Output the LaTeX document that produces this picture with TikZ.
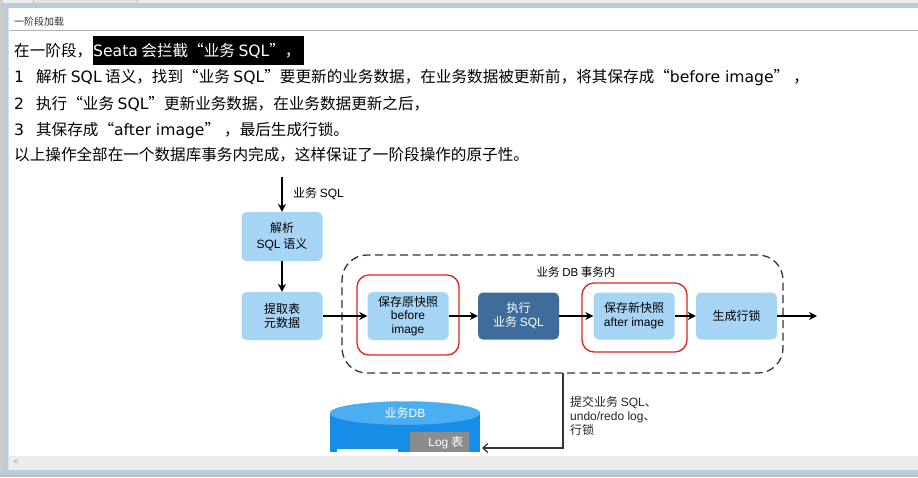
\documentclass[tikz,border=0pt]{standalone}
\usepackage{fontspec}
\setmainfont{Noto Sans CJK SC}
\newfontfamily\lat{DejaVu Sans}
\newfontfamily\hel{Liberation Sans}
\usetikzlibrary{arrows.meta,shapes.geometric}
\definecolor{lb}{HTML}{A6D4F5}
\definecolor{db}{HTML}{3E6D9C}
\definecolor{chrome}{HTML}{BCCBD9}
\definecolor{cyl}{HTML}{178DE8}
\definecolor{cyltop}{HTML}{4AAEF3}
\definecolor{redl}{HTML}{E2231A}
\newcommand{\mainf}{\fontsize{15.6}{18}\selectfont}
\newcommand{\myla}[1]{{\lat #1}}
\newcommand{\myhe}[1]{{\hel #1}}
\begin{document}
\begin{tikzpicture}[x=1pt,y=-1pt,
  txt/.style={anchor=base west, inner sep=0pt, font=\mainf},
  box/.style={rounded corners=5pt, minimum width=81pt, minimum height=48pt, align=center, inner sep=0pt, font=\fontsize{12}{14}\selectfont},
  lbox/.style={box, fill=lb},
  dbox/.style={box, fill=db, text=white},
  redbox/.style={draw=redl, line width=1.3pt, rounded corners=12pt, inner sep=0pt},
  arr/.style={line width=1.8pt, -{Stealth[length=8pt,width=8pt]}},
  small/.style={inner sep=0pt, font=\fontsize{12}{14}\selectfont}
]
\useasboundingbox (0,0) rectangle (918,477);
% window chrome
\fill[white] (0,0) rectangle (918,477);
\fill[gray!15] (0,0) rectangle (918,3);
\draw[gray!55, fill=gray!22] (33,-1) rectangle (137,3);
\fill[chrome] (0,3) rectangle (918,8);
\fill[gray!40] (0,0) rectangle (2.5,477);
\fill[chrome] (2.5,3) rectangle (8,477);
\draw[gray!25] (8.5,8) -- (8.5,470);
\node[anchor=base west, inner sep=0pt, font=\fontsize{10}{12}\selectfont, text=black!80] (title) at (14,25) {一阶段加载};
\draw[gray!60, line width=1pt] (9,30) -- (918,30);
% text lines
\node[txt] (t1) at (14,56.5) {在一阶段，};
\node[fill=black, minimum width=211pt, minimum height=29pt, inner sep=0pt, anchor=north west] (hl) at (93,36) {};
\node[txt, text=white] (t1b) at (93,56.5) {\myla{Seata} 会拦截“业务 \myla{SQL}”，};
\node[txt] (t2) at (14,82.5) {\myla{1}\hspace{12pt}解析 \myla{SQL} 语义，找到“业务 \myla{SQL}”要更新的业务数据，在业务数据被更新前，将其保存成“\myla{before image}”\hspace{4pt}，};
\node[txt] (t3) at (14,109) {\myla{2}\hspace{12pt}执行“业务 \myla{SQL}”更新业务数据，在业务数据更新之后，};
\node[txt] (t4) at (14,135.5) {\myla{3}\hspace{12pt}其保存成“\myla{after image}”\hspace{4pt}，最后生成行锁。};
\node[txt] (t5) at (14,160.5) {以上操作全部在一个数据库事务内完成，这样保证了一阶段操作的原子性。};
% diagram
\node[draw=black!80, dashed, dash pattern=on 8pt off 4.5pt, line width=1.3pt, rounded corners=25pt, minimum width=441pt, minimum height=118pt, inner sep=0pt] (tx) at (562.5,314) {};
\node[small, font=\fontsize{11.5}{14}\selectfont] (txl) at (576,272) {业务 \myhe{DB} 事务内};
\node[redbox, minimum width=102pt, minimum height=80pt] (r1) at (408,315) {};
\node[redbox, minimum width=105pt, minimum height=69pt] (r2) at (634.5,317.5) {};
\node[lbox, font=\fontsize{12}{16}\selectfont, minimum height=49pt] (b1) at (282,236.5) {解析\\\myhe{SQL} 语义};
\node[lbox] (b2) at (282,316) {提取表\\元数据};
\node[lbox, font=\fontsize{12}{13.5}\selectfont] (b3) at (408,316) {保存原快照\\\myhe{before}\\\myhe{image}};
\node[dbox, minimum height=47pt] (b4) at (518.5,316) {执行\\业务 \myhe{SQL}};
\node[lbox, minimum height=47pt] (b5) at (634,316) {保存新快照\\\myhe{after image}};
\node[lbox, minimum height=47pt] (b6) at (736.5,316) {生成行锁};
\coordinate (in) at (282,177);
\coordinate (out) at (817,316);
\node[small, anchor=west] (inl) at (293,194) {业务 \myhe{SQL}};
\draw[arr] (in) -- (b1.north);
\draw[arr] (b1.south) -- (b2.north);
\draw[arr] (b2.east) -- (b3.west);
\draw[arr] (b3.east) -- (b4.west);
\draw[arr] (b4.east) -- (b5.west);
\draw[arr] (b5.east) -- (b6.west);
\draw[arr] (b6.east) -- (out);
% database
\fill[cyl] (330,413) rectangle (480,452);
\node[ellipse, fill=cyltop, draw=cyl!70!white, minimum width=150pt, minimum height=23pt, inner sep=0pt, text=white, font=\fontsize{12}{14}\selectfont] (dbtop) at (405,413) {业务\myhe{DB}};
\node[fill=gray!90!white, minimum width=59pt, minimum height=20pt, inner sep=0pt, anchor=north west, text=white, font=\fontsize{12}{14}\selectfont] (log) at (410,432) {\hspace{12pt}\myhe{Log} 表};
\fill[white] (337,449) rectangle (398,452);
\coordinate (c1) at (563,373);
\coordinate (c2) at (482,448);
\draw[line width=1.2pt, black!80, -{Straight Barb[length=5pt,width=9pt]}] (c1) |- (c2);
\node[small, anchor=north west, align=left, text=black!85] (cl) at (570,396) {提交业务 \myhe{SQL}、\\\myhe{undo/redo log}、\\行锁};
% bottom chrome
\fill[gray!15] (9,456) rectangle (918,470);
\node[inner sep=0pt, text=gray!70, font=\fontsize{10}{12}\selectfont] (lt) at (16,463) {<};
\fill[chrome] (0,470) rectangle (918,475);
\fill[gray!50] (0,475) rectangle (918,477);
\end{tikzpicture}
\end{document}
